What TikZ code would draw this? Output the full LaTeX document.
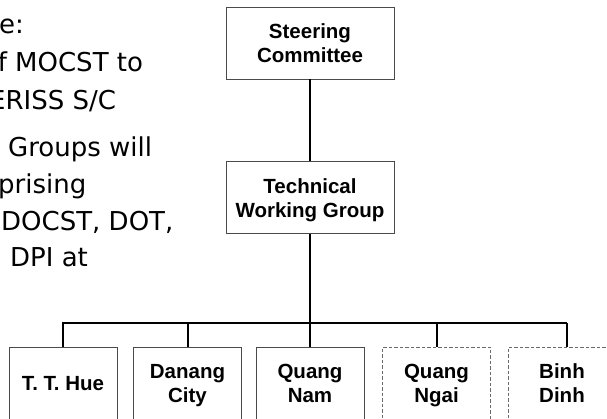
\documentclass[tikz,border=0pt]{standalone}
\usepackage{fontspec}
\setmainfont{Liberation Sans}
\newfontfamily\notefont{DejaVu Sans}
\definecolor{boxgray}{HTML}{4A4A4A}
\definecolor{dashgray}{HTML}{6A6A6A}
\newcommand\topstrut{\rule{0pt}{22.8pt}}
\newcommand\cellstrut{\rule{0pt}{20.3pt}}
\begin{document}
\begin{tikzpicture}[x=1pt,y=-1pt,
  box/.style={draw=boxgray, line width=0.9pt, fill=white, align=center,
    font=\bfseries\fontsize{20.5}{24}\selectfont, inner sep=0pt},
  topbox/.style={box, minimum width=168, minimum height=72},
  cellbox/.style={box, minimum width=108, minimum height=74},
  dashbox/.style={cellbox, draw=dashgray, dash pattern=on 3.5pt off 2pt},
  conn/.style={draw=black, line width=2pt},
  note/.style={anchor=base west, inner sep=0pt, font=\notefont\fontsize{26}{30}\selectfont}]
\useasboundingbox (0,0) rectangle (607,419);
\clip (0,0) rectangle (607,419);
% note text (clipped at the left edge, as in the reference)
\node[note] (n1) at (-1,34) {e:};
\node[note] (n2) at (-2.4,72) {f MOCST to};
\node[note] (n3) at (-11,110) {ERISS S/C};
\node[note] (n4) at (8,157) {Groups will};
\node[note] (n5) at (-2,194) {prising};
\node[note] (n6) at (1,231) {DOCST, DOT,};
\node[note] (n7) at (10,267) {DPI at};
% boxes
\node[topbox] (sc) at (310,43) {\topstrut Steering\\Committee\strut};
\node[topbox] (twg) at (310,197.5) {\topstrut Technical\\Working Group\strut};
\node[cellbox] (b1) at (63,384) {\cellstrut T. T. Hue\strut};
\node[cellbox] (b2) at (187.5,384) {\cellstrut Danang\\City\strut};
\node[cellbox] (b3) at (310,384) {\cellstrut Quang\\Nam\strut};
\node[dashbox] (b4) at (436.5,384) {\cellstrut Quang\\Ngai\strut};
\node[dashbox] (b5) at (562,384) {\cellstrut Binh\\Dinh\strut};
% connectors
\coordinate (barR) at (567,323);
\draw[conn] (sc) -- (twg);
\draw[conn] (twg) -- (b3);
\draw[conn] (b1.north) |- (barR);
\draw[conn] (b2.north) -- (b2.north |- barR);
\draw[conn] (b4.north) -- (b4.north |- barR);
\draw[conn] (barR) -- (barR |- b5.north);
\end{tikzpicture}
\end{document}
